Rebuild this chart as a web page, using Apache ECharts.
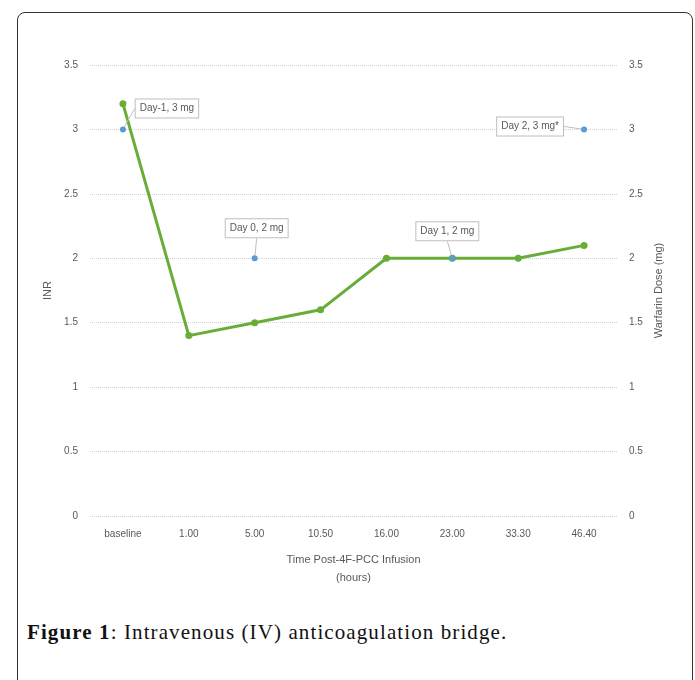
<!DOCTYPE html>
<html>
<head>
<meta charset="utf-8">
<script src="https://cdn.jsdelivr.net/npm/echarts@6/dist/echarts.min.js"></script>
<style>
  html, body { margin: 0; padding: 0; background: #fff; }
  #frame {
    position: absolute; left: 17px; top: 12px; width: 676px; height: 700px;
    border: 1.5px solid #333; border-radius: 8px; box-sizing: border-box;
  }
  #chart { position: absolute; left: 0; top: 0; width: 695px; height: 600px; }
  #caption {
    position: absolute; left: 27px; top: 620px; letter-spacing: 1.1px;
    font-family: 'Liberation Serif', serif; font-size: 21px; color: #111;
  }
</style>
</head>
<body>
<div id="frame"></div>
<div id="chart"></div>
<div id="caption"><b>Figure 1</b>: Intravenous (IV) anticoagulation bridge.</div>
<script>
// categories (hours post infusion)
var timePoints = ['baseline', '1.00', '5.00', '10.50', '16.00', '23.00', '33.30', '46.40'];
// INR values
var inrValues = [3.2, 1.4, 1.5, 1.6, 2.0, 2.0, 2.0, 2.1];
// warfarin dose (mg), '-' = no dose at this time
var doseValues = [3, '-', 2, '-', '-', 2, '-', 3];
var doseLabels = ['Day-1, 3 mg', '', 'Day 0, 2 mg', '', '', 'Day 1, 2 mg', '', 'Day 2, 3 mg*'];
var labelShift = [[44, -21], null, [2, -30], null, null, [-5, -27], null, [-54, -3]];

var txtCol = '#595959';
var fontFam = "'Liberation Sans Narrow', 'Liberation Sans', sans-serif";

var chartEl = document.getElementById('chart');
var chart = echarts.init(chartEl);

var doseData = [];
for (var i = 0; i < doseValues.length; i++) {
    if (doseValues[i] === '-') {
        doseData.push('-');
        continue;
    }
    doseData.push({
        value: doseValues[i],
        label: { show: true, formatter: doseLabels[i] }
    });
}

var option = {
    animation: false,
    textStyle: { fontFamily: fontFam },
    grid: { left: 90, right: 78, top: 65, bottom: 84 },
    xAxis: {
        type: 'category',
        data: timePoints,
        boundaryGap: true,
        name: 'Time Post-4F-PCC Infusion\n(hours)',
        nameLocation: 'middle',
        nameGap: 35,
        nameTextStyle: { color: txtCol, fontSize: 11, lineHeight: 18, fontFamily: fontFam },
        axisLine: { show: false },
        axisTick: { show: false },
        axisLabel: { color: txtCol, fontSize: 10, margin: 13, fontFamily: fontFam }
    },
    yAxis: [{
        type: 'value',
        min: 0, max: 3.5, interval: 0.5,
        name: 'INR',
        nameLocation: 'middle',
        nameGap: 22,
        nameTextStyle: { color: txtCol, fontSize: 11, fontFamily: fontFam },
        axisLabel: { color: txtCol, fontSize: 10, margin: 12, fontFamily: fontFam },
        splitLine: { lineStyle: { color: '#d0d0d0', type: 'dotted', width: 1 } }
    }, {
        type: 'value',
        min: 0, max: 3.5, interval: 0.5,
        name: 'Warfarin Dose (mg)',
        nameLocation: 'middle',
        nameGap: 31,
        nameRotate: 90,
        nameTextStyle: { color: txtCol, fontSize: 11, fontFamily: fontFam },
        axisLabel: { color: txtCol, fontSize: 10, margin: 12, fontFamily: fontFam },
        splitLine: { show: false }
    }],
    series: [{
        name: 'INR',
        type: 'line',
        data: inrValues,
        symbol: 'circle',
        symbolSize: 7,
        lineStyle: { color: '#6aac38', width: 3 },
        itemStyle: { color: '#6aac38' },
        z: 2
    }, {
        name: 'Warfarin Dose',
        type: 'line',
        yAxisIndex: 1,
        data: doseData,
        symbol: 'circle',
        symbolSize: 6,
        connectNulls: false,
        clip: false,
        lineStyle: { opacity: 0 },
        itemStyle: { color: '#5b9bd5' },
        label: {
            position: 'inside',
            color: txtCol,
            fontSize: 10,
            fontFamily: fontFam,
            backgroundColor: '#fff',
            borderColor: '#bfbfbf',
            borderWidth: 1,
            padding: [4, 4]
        },
        labelLine: { show: true, minTurnAngle: 0, lineStyle: { color: '#bfbfbf', width: 1 } },
        labelLayout: function (params) {
            var s = labelShift[params.dataIndex] || [0, 0];
            return { dx: s[0], dy: s[1] };
        },
        z: 3
    }]
};

chart.setOption(option);
</script>
</body>
</html>
